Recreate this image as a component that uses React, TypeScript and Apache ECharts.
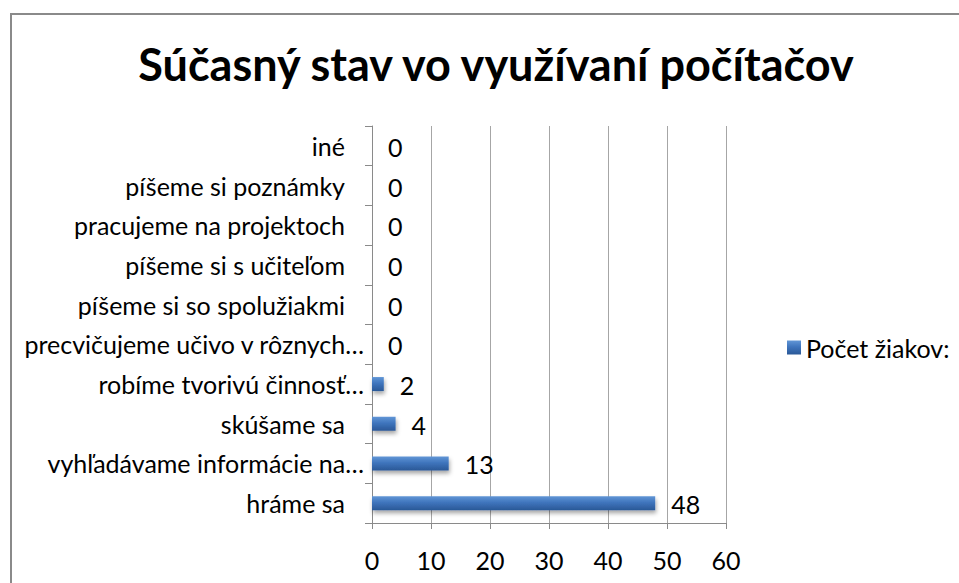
import React, { useEffect, useRef } from "react";
import * as echarts from "echarts";

const titleText = "Súčasný stav vo využívaní počítačov";
const seriesName = "Počet žiakov:";
const categories = [
  "hráme sa",
  "vyhľadávame informácie na…",
  "skúšame sa",
  "robíme tvorivú činnosť…",
  "precvičujeme učivo v rôznych…",
  "píšeme si so spolužiakmi",
  "píšeme si s učiteľom",
  "pracujeme na projektoch",
  "píšeme si poznámky",
  "iné",
];
const values = [48, 13, 4, 2, 0, 0, 0, 0, 0, 0];
const xMin = 0;
const xMax = 60;
const xInterval = 10;

const FONT = "Lato, 'Noto Sans', 'DejaVu Sans', sans-serif";
const FS = 25;

export default function App() {
  const ref = useRef<HTMLDivElement>(null);
  useEffect(() => {
    if (!ref.current) return;
    const chart = echarts.init(ref.current, undefined, { renderer: "svg" });
    const barColor = new echarts.graphic.LinearGradient(0, 0, 0, 1, [
      { offset: 0, color: "#6196d6" },
      { offset: 0.45, color: "#3f75bd" },
      { offset: 1, color: "#2a5897" },
    ]);
    chart.setOption({
      animation: false,
      backgroundColor: "#ffffff",
      title: {
        text: titleText,
        left: 491,
        textAlign: "center",
        top: 36,
        textStyle: { fontFamily: FONT, fontWeight: "bold", fontSize: 45, color: "#000" },
      },
      graphic: [
        {
          type: "rect",
          shape: { x: 11, y: 14, width: 1200, height: 1200 },
          style: { fill: "none", stroke: "#8a8a8a", lineWidth: 2 },
          silent: true,
        },
      ],
      legend: {
        left: 782,
        top: 330,
        itemWidth: 14,
        itemHeight: 14,
        itemGap: 6,
        icon: "rect",
        textStyle: { fontFamily: FONT, fontSize: FS, color: "#000" },
        data: [seriesName],
      },
      grid: { left: 372, right: 233, top: 126, bottom: 60, containLabel: false },
      xAxis: {
        type: "value",
        min: xMin,
        max: xMax,
        interval: xInterval,
        axisLine: { show: true, lineStyle: { color: "#8a8a8a", width: 1 } },
        axisTick: { show: true, length: 6, lineStyle: { color: "#8a8a8a" } },
        splitLine: { show: true, lineStyle: { color: "#a6a6a6", width: 1 } },
        axisLabel: { fontFamily: FONT, fontSize: FS, color: "#000", margin: 24 },
      },
      yAxis: {
        type: "category",
        data: categories,
        axisLine: { show: true, lineStyle: { color: "#8a8a8a", width: 1 } },
        axisTick: { show: true, length: 7, lineStyle: { color: "#8a8a8a" } },
        axisLabel: {
          fontFamily: FONT,
          fontSize: FS,
          color: "#000",
          margin: 8,
          formatter: (v: string) => (v.endsWith("…") ? `{t|${v}}` : `{n|${v}}`),
          rich: {
            t: { fontFamily: FONT, fontSize: FS, color: "#000" },
            n: { fontFamily: FONT, fontSize: FS, color: "#000", padding: [0, 19, 0, 0] },
          },
        },
      },
      series: [
        {
          name: seriesName,
          type: "bar",
          data: values,
          barWidth: 14,
          itemStyle: {
            color: barColor,
            shadowBlur: 4,
            shadowOffsetY: 3,
            shadowOffsetX: 1,
            shadowColor: "rgba(0,0,0,0.35)",
          },
          label: {
            show: true,
            position: "right",
            distance: 16,
            fontFamily: FONT,
            fontSize: FS,
            color: "#000",
            offset: [0, 1],
          },
        },
      ],
    });
    return () => chart.dispose();
  }, []);
  return (
    <div
      ref={ref}
      style={{ position: "fixed", left: 0, top: 0, width: 959, height: 583, background: "#fff" }}
    />
  );
}
